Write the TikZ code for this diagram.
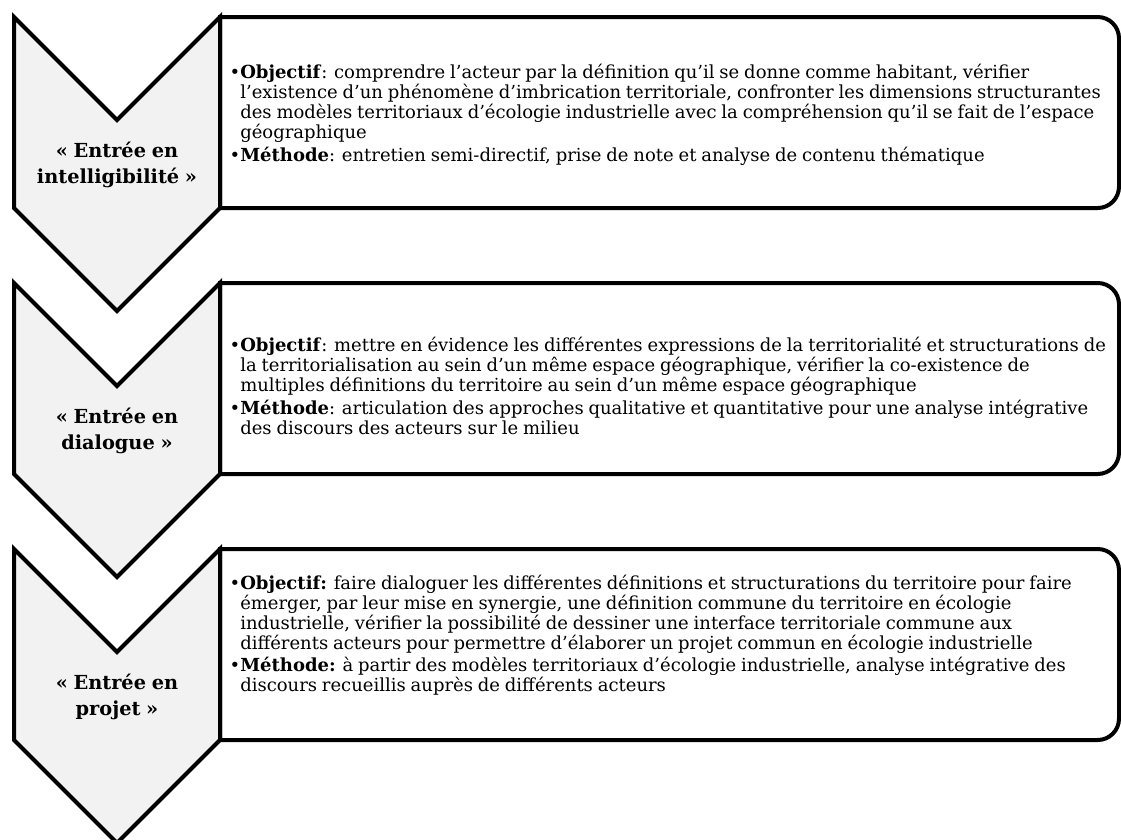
\documentclass[tikz,border=0pt]{standalone}
\usepackage{fontspec}
\setmainfont[WordSpace=0.85]{DejaVu Serif}
\usetikzlibrary{positioning}

\begin{document}
\begin{tikzpicture}[x=0.75pt, y=-0.75pt,
  chevron/.style={draw=black, line width=3pt, fill=black!5, line join=miter},
  panel/.style={draw=black, line width=3pt, fill=white},
  stage/.style={font=\bfseries\fontsize{14.5}{19.5}\selectfont, align=center, inner sep=0pt},
  body/.style={font=\fontsize{13.5}{15}\selectfont, align=left, inner sep=0pt, anchor=west}
]
\useasboundingbox (0,0) rectangle (1121,839);
\clip (0,0) rectangle (1121,839);

% panels first, chevrons on top of their left edge
\foreach \t in {17,283,549} {
  \draw[panel] (220,\t+191) -- (220,\t) [rounded corners=16pt] -- (1119,\t) -- (1119,\t+191) [sharp corners] -- cycle;
  \draw[chevron] (14,\t) -- (117,\t+103) -- (220,\t) -- (220,\t+191) -- (117,\t+294) -- (14,\t+191) -- cycle;
}

\node[stage] (intel) at (117,165) {«~Entrée en\\intelligibilité~»};
\node[stage] (dial) at (117,431) {«~Entrée en\\dialogue~»};
\node[stage] (proj) at (117,697) {«~Entrée en\\projet~»};

\node[body] (intelTxt) at (240,115)
  {\llap{•}\textbf{Objectif}: comprendre l’acteur par la définition qu’il se donne comme habitant, vérifier\\
   l’existence d’un phénomène d’imbrication territoriale, confronter les dimensions structurantes\\
   des modèles territoriaux d’écologie industrielle avec la compréhension qu’il se fait de l’espace\\
   géographique\\[2pt]
   \llap{•}\textbf{Méthode}: entretien semi-directif, prise de note et analyse de contenu thématique};

\node[body] (dialTxt) at (240,386)
  {\llap{•}\textbf{Objectif}: mettre en évidence les différentes expressions de la territorialité et structurations de\\
   la territorialisation au sein d’un même espace géographique, vérifier la co-existence de\\
   multiples définitions du territoire au sein d’un même espace géographique\\[2pt]
   \llap{•}\textbf{Méthode}: articulation des approches qualitative et quantitative pour une analyse intégrative\\
   des discours des acteurs sur le milieu};

\node[body] (projTxt) at (240,635)
  {\llap{•}\textbf{Objectif:} faire dialoguer les différentes définitions et structurations du territoire pour faire\\
   émerger, par leur mise en synergie, une définition commune du territoire en écologie\\
   industrielle, vérifier la possibilité de dessiner une interface territoriale commune aux\\
   différents acteurs pour permettre d’élaborer un projet commun en écologie industrielle\\[2pt]
   \llap{•}\textbf{Méthode:} à partir des modèles territoriaux d’écologie industrielle, analyse intégrative des\\
   discours recueillis auprès de différents acteurs};

\end{tikzpicture}
\end{document}
